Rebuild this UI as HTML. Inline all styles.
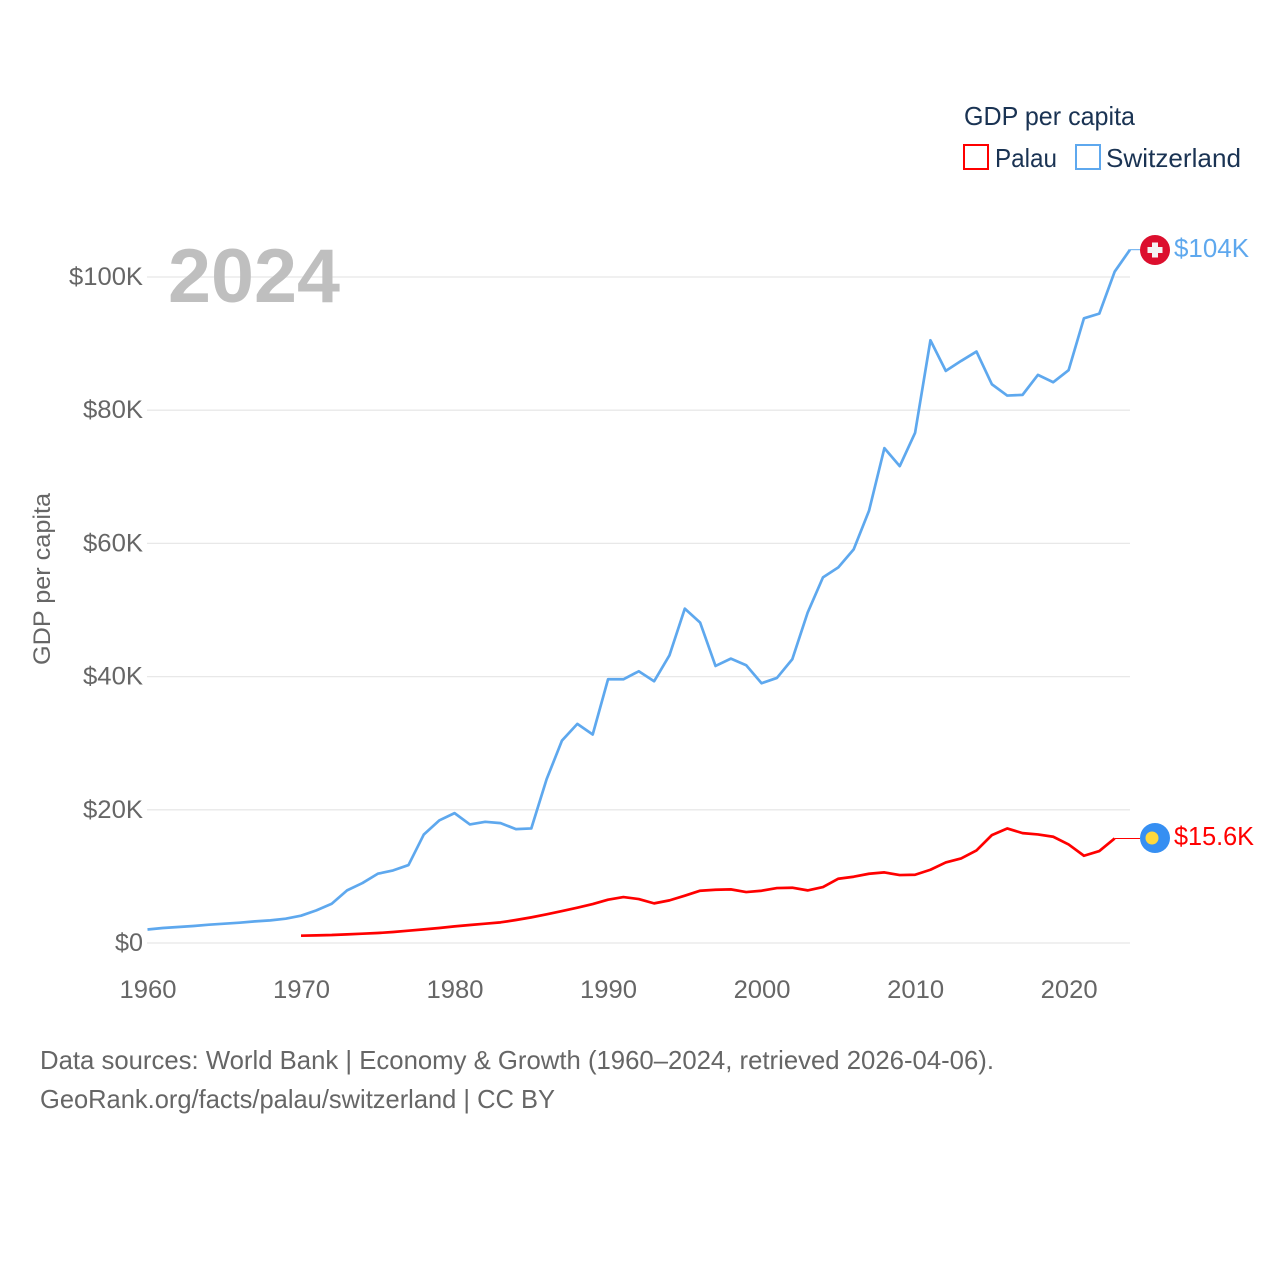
<!DOCTYPE html>
<html lang="en">
<head>
<meta charset="utf-8">
<title>GDP per capita: Palau and Switzerland</title>
<style>
html,body{margin:0;padding:0;background:#fff;}
svg{display:block;font-family:"Liberation Sans",sans-serif;}
</style>
</head>
<body>
<svg id="chart" xmlns="http://www.w3.org/2000/svg" width="1280" height="1280" viewBox="0 0 1280 1280">
  <rect width="1280" height="1280" fill="#ffffff"/>
  <g id="grid"></g>
  <g id="yticks"></g>
  <g id="xticks"></g>
  <text x="168" y="302" font-size="76" font-weight="700" fill="#bfbfbf" textLength="172" lengthAdjust="spacingAndGlyphs">2024</text>
  <text transform="translate(50,665) rotate(-90)" font-size="24" fill="#666666" textLength="172" lengthAdjust="spacingAndGlyphs">GDP per capita</text>
  <g id="series"></g>
  <g>
    <text x="964" y="125" font-size="26" fill="#1a3353" textLength="171" lengthAdjust="spacingAndGlyphs">GDP per capita</text>
    <rect x="964" y="145" width="24" height="24" fill="#ffffff" stroke="#ff0000" stroke-width="2"/>
    <text x="995" y="167" font-size="26" fill="#1a3353" textLength="62" lengthAdjust="spacingAndGlyphs">Palau</text>
    <rect x="1076" y="145" width="24" height="24" fill="#ffffff" stroke="#5ea8ee" stroke-width="2"/>
    <text x="1106" y="167" font-size="26" fill="#1a3353" textLength="135" lengthAdjust="spacingAndGlyphs">Switzerland</text>
  </g>
  <g>
    <circle cx="1155" cy="250" r="15" fill="#dc0f2e"/>
    <rect x="1147.5" y="247" width="15" height="6" fill="#f4f4f4"/>
    <rect x="1152" y="242.5" width="6" height="15" fill="#f4f4f4"/>
  </g>
  <g>
    <circle cx="1155" cy="838" r="15" fill="#368ff2"/>
    <circle cx="1152" cy="838" r="6.5" fill="#ffd83d"/>
  </g>
  <text x="1174" y="257" font-size="26" fill="#5ea8ee" textLength="75" lengthAdjust="spacingAndGlyphs">$104K</text>
  <text x="1174" y="845" font-size="26" fill="#ff0000" textLength="80" lengthAdjust="spacingAndGlyphs">$15.6K</text>
  <text x="40" y="1069" font-size="26" fill="#666666" textLength="954" lengthAdjust="spacingAndGlyphs">Data sources: World Bank | Economy &amp; Growth (1960–2024, retrieved 2026-04-06).</text>
  <text x="40" y="1108" font-size="26" fill="#666666" textLength="515" lengthAdjust="spacingAndGlyphs">GeoRank.org/facts/palau/switzerland | CC BY</text>
</svg>
<script>
const xTickYears = [1960, 1970, 1980, 1990, 2000, 2010, 2020];
const yTickValues = [0, 20, 40, 60, 80, 100];
const yTickLabels = ["$0", "$20K", "$40K", "$60K", "$80K", "$100K"];
const switzerlandStartYear = 1960;
const switzerlandValues = [2.03,2.25,2.4,2.55,2.75,2.9,3.05,3.25,3.4,3.65,4.1,4.9,5.9,7.9,9.0,10.4,10.9,11.7,16.3,18.4,19.5,17.8,18.2,18.0,17.1,17.2,24.6,30.4,32.9,31.3,39.6,39.6,40.8,39.3,43.2,50.2,48.1,41.6,42.7,41.7,39.0,39.8,42.6,49.6,54.9,56.4,59.1,64.9,74.3,71.6,76.6,90.5,85.9,87.4,88.8,83.9,82.2,82.3,85.3,84.2,86.0,93.8,94.5,100.8,104.1];
const palauStartYear = 1970;
const palauValues = [1.1,1.15,1.2,1.3,1.4,1.5,1.65,1.85,2.05,2.25,2.5,2.7,2.9,3.1,3.45,3.85,4.3,4.8,5.3,5.85,6.5,6.9,6.6,5.95,6.4,7.1,7.85,8.0,8.05,7.65,7.85,8.25,8.3,7.9,8.4,9.65,9.95,10.4,10.6,10.2,10.25,11.0,12.1,12.7,13.9,16.2,17.2,16.5,16.3,15.95,14.8,13.1,13.8,15.7];

const NS = "http://www.w3.org/2000/svg";
function xScale(year) { return 147.5 + (year - 1960) * (1130 - 147.5) / 64; }
function yScale(value) { return 943 - value * 6.66; }
function yLabelWidth(label) { return label.length > 2 ? label.length * 14 + 4 : 28; }
function make(tag, attrs, parent) {
  const el = document.createElementNS(NS, tag);
  for (const k in attrs) el.setAttribute(k, attrs[k]);
  parent.appendChild(el);
  return el;
}
const grid = document.getElementById("grid");
const yticks = document.getElementById("yticks");
const xticks = document.getElementById("xticks");
const series = document.getElementById("series");

yTickValues.forEach(function (v, i) {
  const line = make("line", {x1: 147, x2: 1130, y1: yScale(v), y2: yScale(v), stroke: "#e8e8e8", "stroke-width": 1.3}, grid);
  
  
  const label = yTickLabels[i];
  const t = make("text", {x: 143, y: yScale(v) + 8, "font-size": 25, fill: "#666666", "text-anchor": "end", textLength: yLabelWidth(label), lengthAdjust: "spacingAndGlyphs"}, yticks);
  
  
  t.textContent = label;
});

xTickYears.forEach(function (y) {
  const t = make("text", {x: xScale(y) + 0.5, y: 998, "font-size": 25, fill: "#666666", "text-anchor": "middle", textLength: 57, lengthAdjust: "spacingAndGlyphs"}, xticks);
  
  
  t.textContent = String(y);
});

function drawSeries(startYear, values, color) {
  const pts = values.map(function (v, i) { return xScale(startYear + i).toFixed(2) + "," + yScale(v).toFixed(2); });
  return make("polyline", {points: pts.join(" "), fill: "none", stroke: color, "stroke-width": 2.7, "stroke-linejoin": "round"}, series);
}
function drawConnector(startYear, values, color) {
  const last = values.length - 1;
  const y = yScale(values[last]);
  return make("line", {x1: xScale(startYear + last), x2: 1140, y1: y, y2: y, stroke: color, "stroke-width": 1}, series);
}

const swissLine = drawSeries(switzerlandStartYear, switzerlandValues, "#5ea8ee");


const swissConnector = drawConnector(switzerlandStartYear, switzerlandValues, "#5ea8ee");


const palauLine = drawSeries(palauStartYear, palauValues, "#ff0000");


const palauConnector = drawConnector(palauStartYear, palauValues, "#ff0000");


</script>
</body>
</html>
